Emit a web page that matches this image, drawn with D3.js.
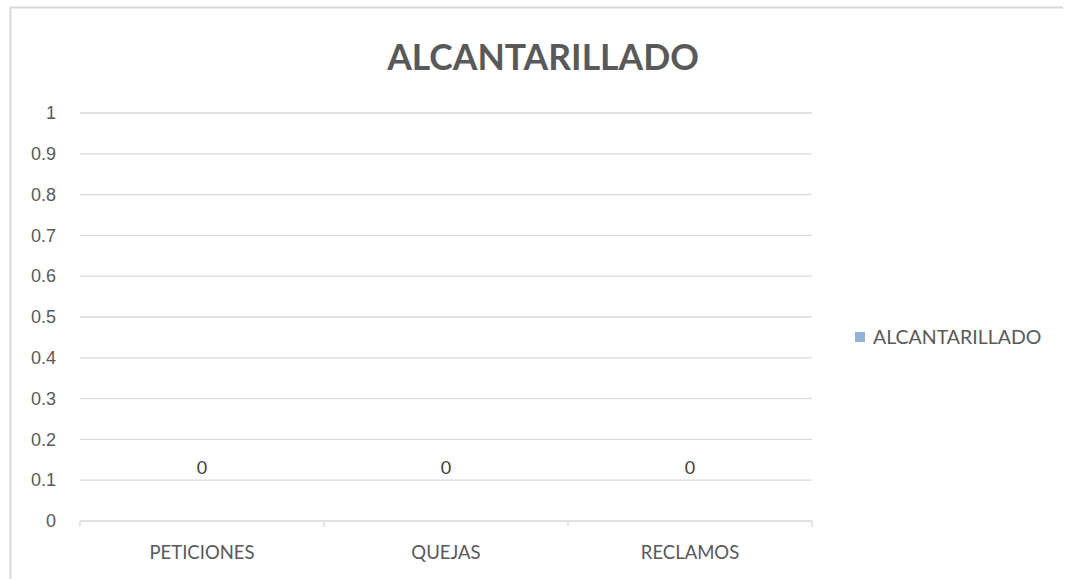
<!DOCTYPE html>
<html><head><meta charset="utf-8">
<script src="https://cdn.jsdelivr.net/npm/d3@7/dist/d3.min.js"></script>
<style>body{margin:0;background:#fff;}svg{display:block;font-family:Lato,"Open Sans",sans-serif;}</style>
</head><body>
<svg id="c" width="1073" height="579"></svg>
<script>
const categories = ["PETICIONES", "QUEJAS", "RECLAMOS"];
const values = [0, 0, 0];
const yTicks = [0, 0.1, 0.2, 0.3, 0.4, 0.5, 0.6, 0.7, 0.8, 0.9, 1];
const seriesName = "ALCANTARILLADO";
const title = "ALCANTARILLADO";

const svg = d3.select("#c");
const text = "#595959";
// chart border
svg.append("path").attr("d", "M10.5,590 V7.5 H1063").attr("fill", "none").attr("stroke", "#d9d9d9").attr("stroke-width", 2);

const x = d3.scaleBand().domain(categories).range([80, 812]).paddingInner(0.35).paddingOuter(0.175);
const y = d3.scaleLinear().domain([0, 1]).range([521, 113]);

// gridlines
svg.append("g").selectAll("line").data(yTicks.filter(d => d > 0)).join("line")
  .attr("x1", 80).attr("x2", 812).attr("y1", d => y(d)).attr("y2", d => y(d))
  .attr("stroke", "#d9d9d9").attr("stroke-width", 1.3);

// y axis labels
const yAxis = d3.axisLeft(y).tickValues(yTicks).tickSize(0).tickPadding(0).tickFormat(d => d3.format("")(d));
const gy = svg.append("g").attr("transform", "translate(56,0)").call(yAxis);
gy.select(".domain").remove();
gy.selectAll("text").attr("fill", text).style("font-size", "18px").attr("text-anchor", "end");

// x axis
const xOuter = d3.scalePoint().domain(d3.range(categories.length + 1)).range([80, 812]);
svg.append("line").attr("x1", 80).attr("x2", 812).attr("y1", y(0)).attr("y2", y(0)).attr("stroke", "#d9d9d9").attr("stroke-width", 1.3);
svg.append("g").selectAll("line").data(xOuter.domain()).join("line")
  .attr("x1", d => xOuter(d)).attr("x2", d => xOuter(d)).attr("y1", y(0)).attr("y2", y(0) + 6)
  .attr("stroke", "#d9d9d9").attr("stroke-width", 1.3);
svg.append("g").selectAll("text").data(categories).join("text")
  .attr("x", d => x(d) + x.bandwidth() / 2).attr("y", 559)
  .attr("text-anchor", "middle").attr("fill", text).style("font-size", "18.5px").text(d => d);

// bars (zero height)
svg.append("g").selectAll("rect").data(values).join("rect")
  .attr("x", (d, i) => x(categories[i])).attr("width", x.bandwidth())
  .attr("y", d => y(d)).attr("height", d => y(0) - y(d)).attr("fill", "#95b3d7");

// data labels
svg.append("g").selectAll("text").data(values).join("text")
  .attr("x", (d, i) => x(categories[i]) + x.bandwidth() / 2).attr("y", d => y(d) - 47)
  .attr("text-anchor", "middle").attr("fill", "#404040").style("font-size", "18px").text(d => d);

// title
svg.append("text").attr("x", 543).attr("y", 70).attr("text-anchor", "middle")
  .attr("fill", text).style("font-size", "35.5px").style("font-weight", "bold").text(title);

// legend
svg.append("rect").attr("x", 855).attr("y", 332).attr("width", 10).attr("height", 10).attr("fill", "#95b3d7");
svg.append("text").attr("x", 873).attr("y", 344).attr("fill", text).style("font-size", "19.5px").text(seriesName);
</script>
</body></html>
